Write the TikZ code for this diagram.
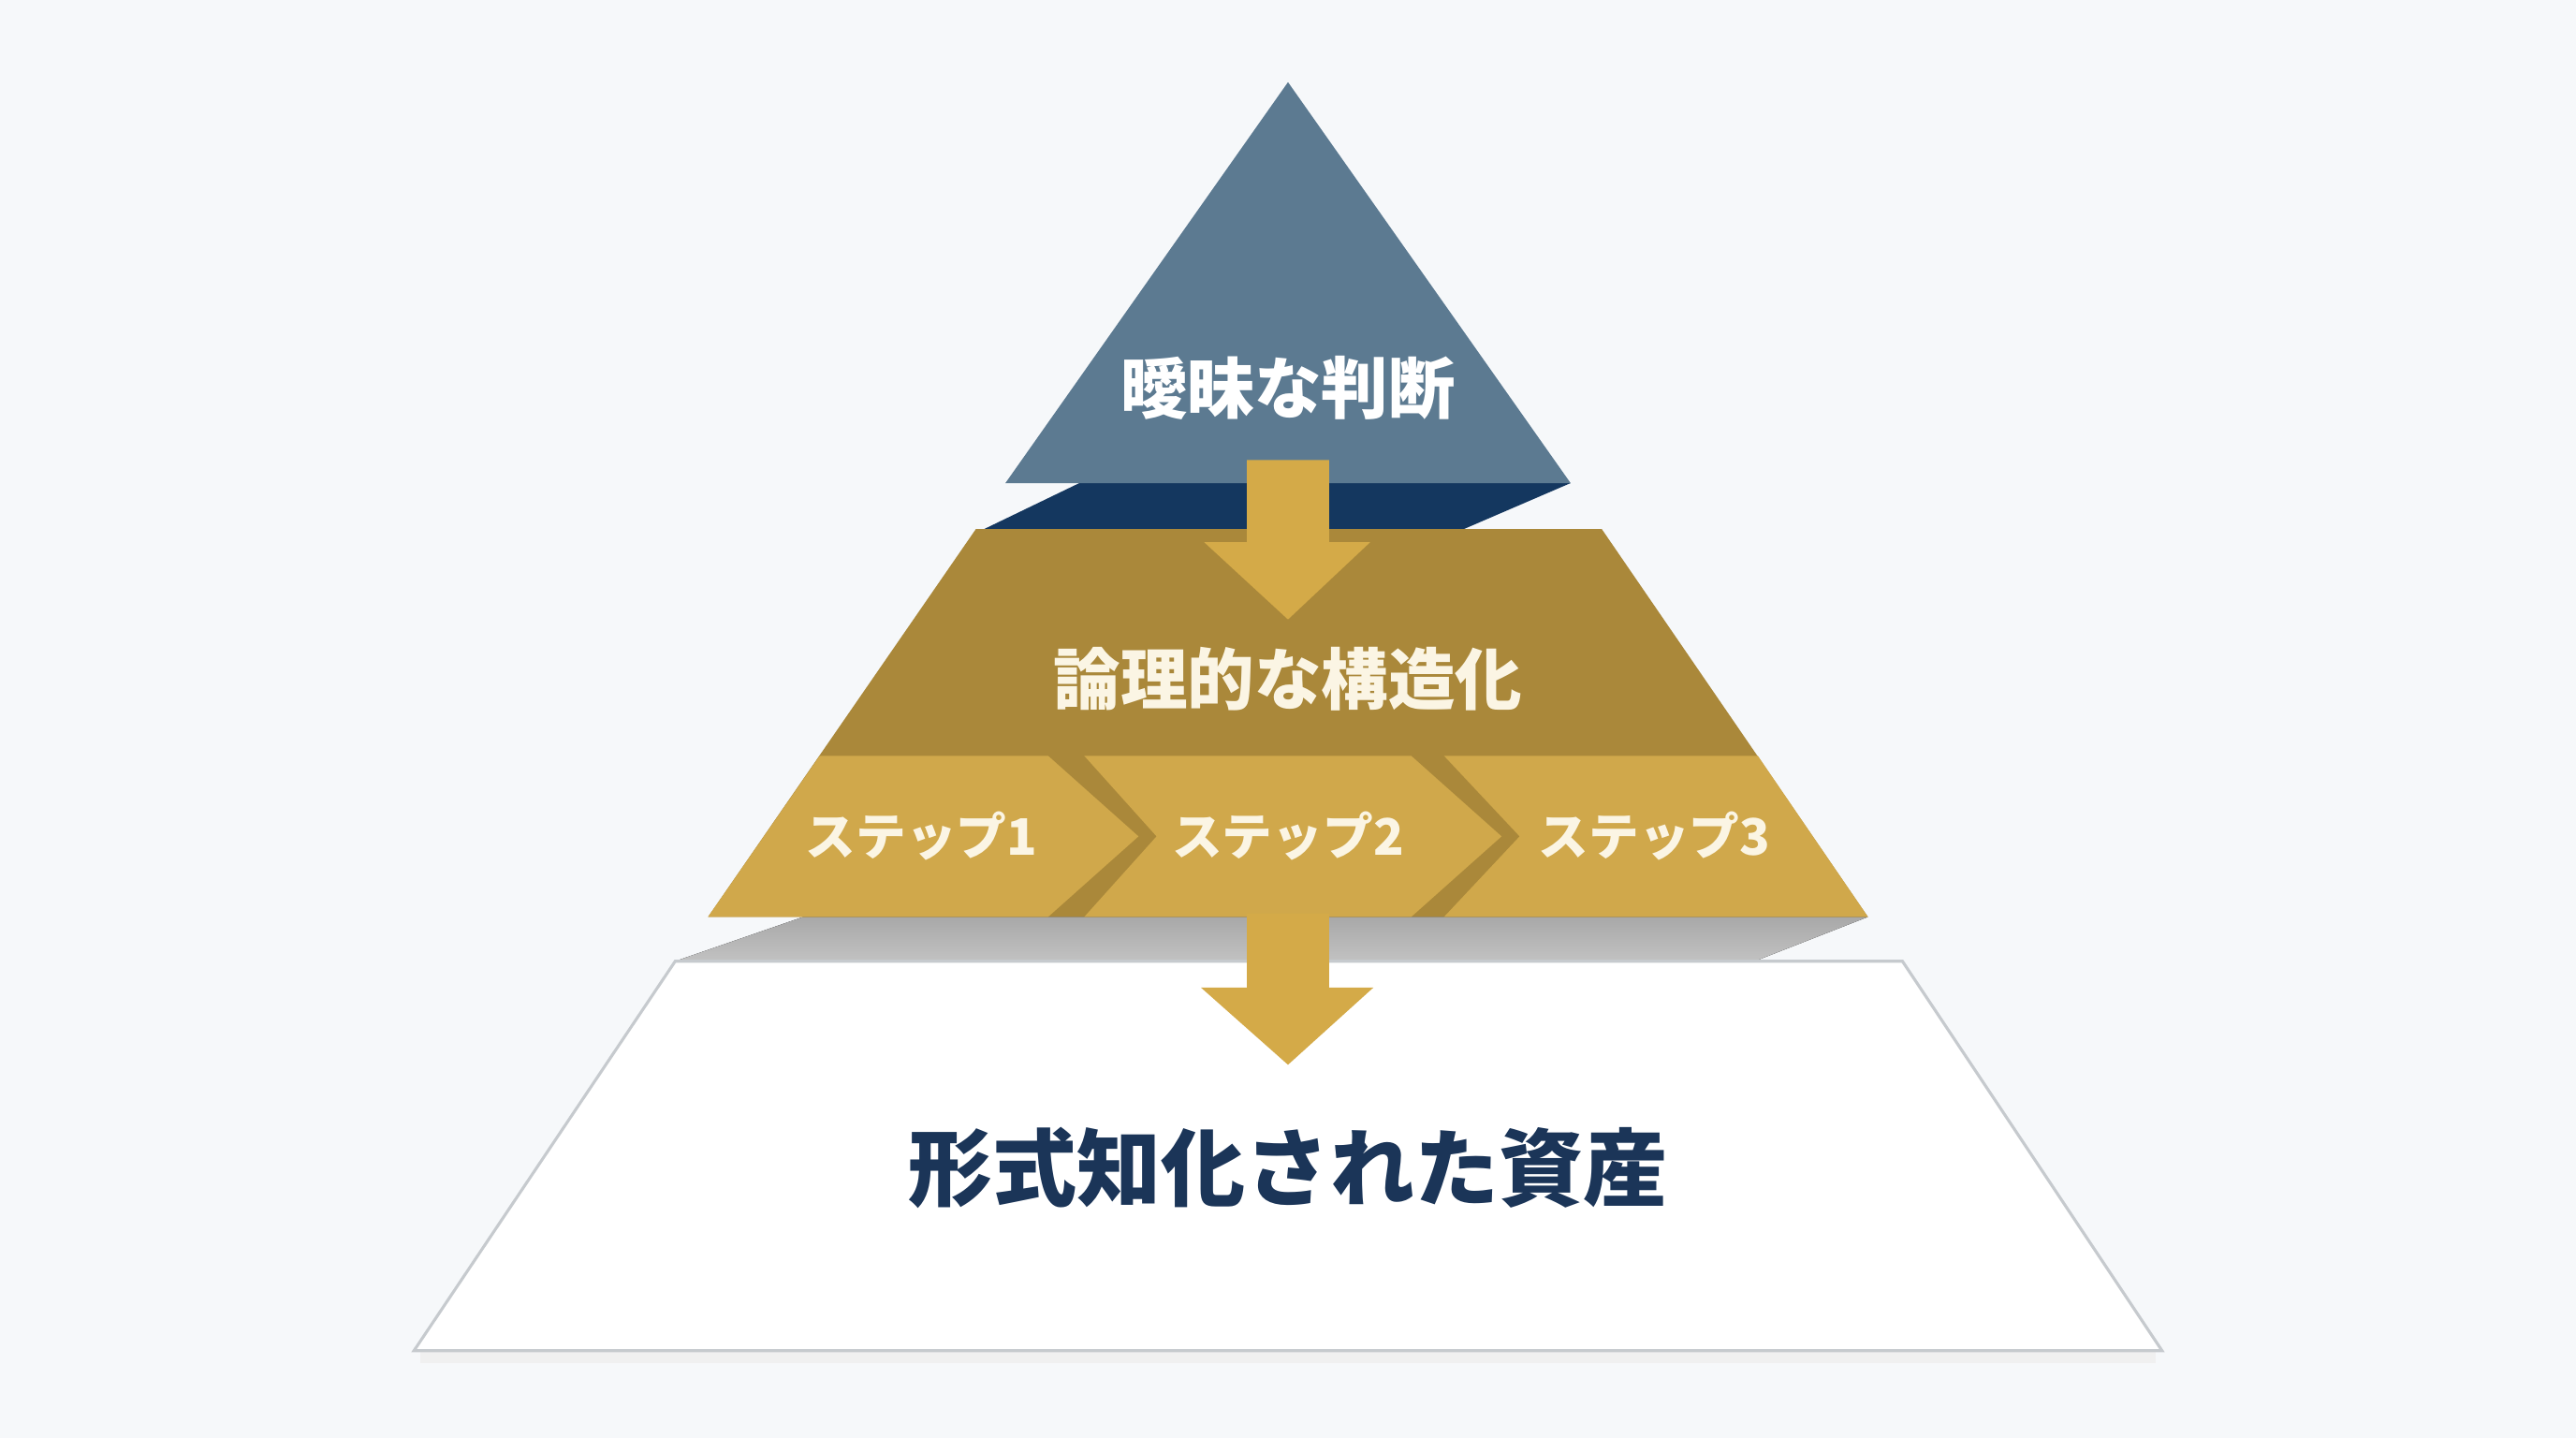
\documentclass[tikz,border=0pt]{standalone}
\usepackage{fontspec}
\setmainfont{Noto Sans CJK JP}

\definecolor{bgc}{HTML}{F6F8FA}
\definecolor{slate}{HTML}{5C7A91}
\definecolor{navyside}{HTML}{14375F}
\definecolor{golddark}{HTML}{AA883A}
\definecolor{goldstep}{HTML}{D0A84B}
\definecolor{goldarr}{HTML}{D4AA48}
\definecolor{cream}{HTML}{FBF5E4}
\definecolor{navytxt}{HTML}{1B3558}
\definecolor{edgegrey}{HTML}{C6CACE}

\begin{document}
\begin{tikzpicture}[x=0.01cm, y=-0.01cm,
        apex/.style={fill=slate},
        topside/.style={fill=navyside},
        middle/.style={fill=golddark},
        midside/.style={top color=black!34, bottom color=black!24},
        stepbox/.style={fill=goldstep},
        base/.style={fill=white, draw=edgegrey, line width=0.5pt, line join=miter},
        blockarr/.style={fill=goldarr},
        toplbl/.style={font=\fontsize{11.6}{14}\selectfont\bfseries, text=white, inner sep=0pt},
        midlbl/.style={font=\fontsize{11.6}{14}\selectfont\bfseries, text=cream, inner sep=0pt},
        steplbl/.style={font=\fontsize{8.7}{10}\selectfont\bfseries, text=cream, inner sep=0pt},
        baselbl/.style={font=\fontsize{14.6}{17}\selectfont\bfseries, text=navytxt, inner sep=0pt}
        ]
        \fill[bgc] (0,0) rectangle (1568,875);
        \useasboundingbox (0,0) rectangle (1568,875);

        % top layer
        \fill[topside] (657,294) -- (956,294) -- (891,322) -- (599,322) -- cycle;
        \fill[apex] (784,50) -- (956,294) -- (612,294) -- cycle;

        % middle layer
        \fill[midside] (489,558) -- (1137,558) -- (1068,585) -- (411,585) -- cycle;
        \fill[middle] (594,322) -- (975,322) -- (1137,558) -- (431,558) -- cycle;
        \fill[stepbox] (499,460) -- (638,460) -- (693,509) -- (638,558) -- (431,558) -- cycle;
        \fill[stepbox] (660,460) -- (859,460) -- (914,509) -- (859,558) -- (660,558) -- (704,509) -- cycle;
        \fill[stepbox] (879,460) -- (1070,460) -- (1137,558) -- (879,558) -- (925,509) -- cycle;

        % base layer
        \draw[black!6, line width=2pt] (256,826) -- (1312,826);
        \draw[base] (411,585) -- (1158,585) -- (1316,822) -- (252,822) -- cycle;

        % arrows
        \fill[blockarr] (759,280) -- (809,280) -- (809,330) -- (834,330) -- (784,377)
                        -- (733,330) -- (759,330) -- cycle;
        \fill[blockarr] (759,556) -- (809,556) -- (809,601) -- (836,601) -- (784,648)
                        -- (731,601) -- (759,601) -- cycle;

        % labels
        \node (vague) [toplbl] at (784,236) {曖昧な判断};
        \node (logic) [midlbl] at (784,413) {論理的な構造化};
        \node (s1) [steplbl] at (561,509) {ステップ1};
        \node (s2) [steplbl] at (784,509) {ステップ2};
        \node (s3) [steplbl] at (1007,509) {ステップ3};
        \node (asset) [baselbl] at (784,711) {形式知化された資産};
\end{tikzpicture}
\end{document}
